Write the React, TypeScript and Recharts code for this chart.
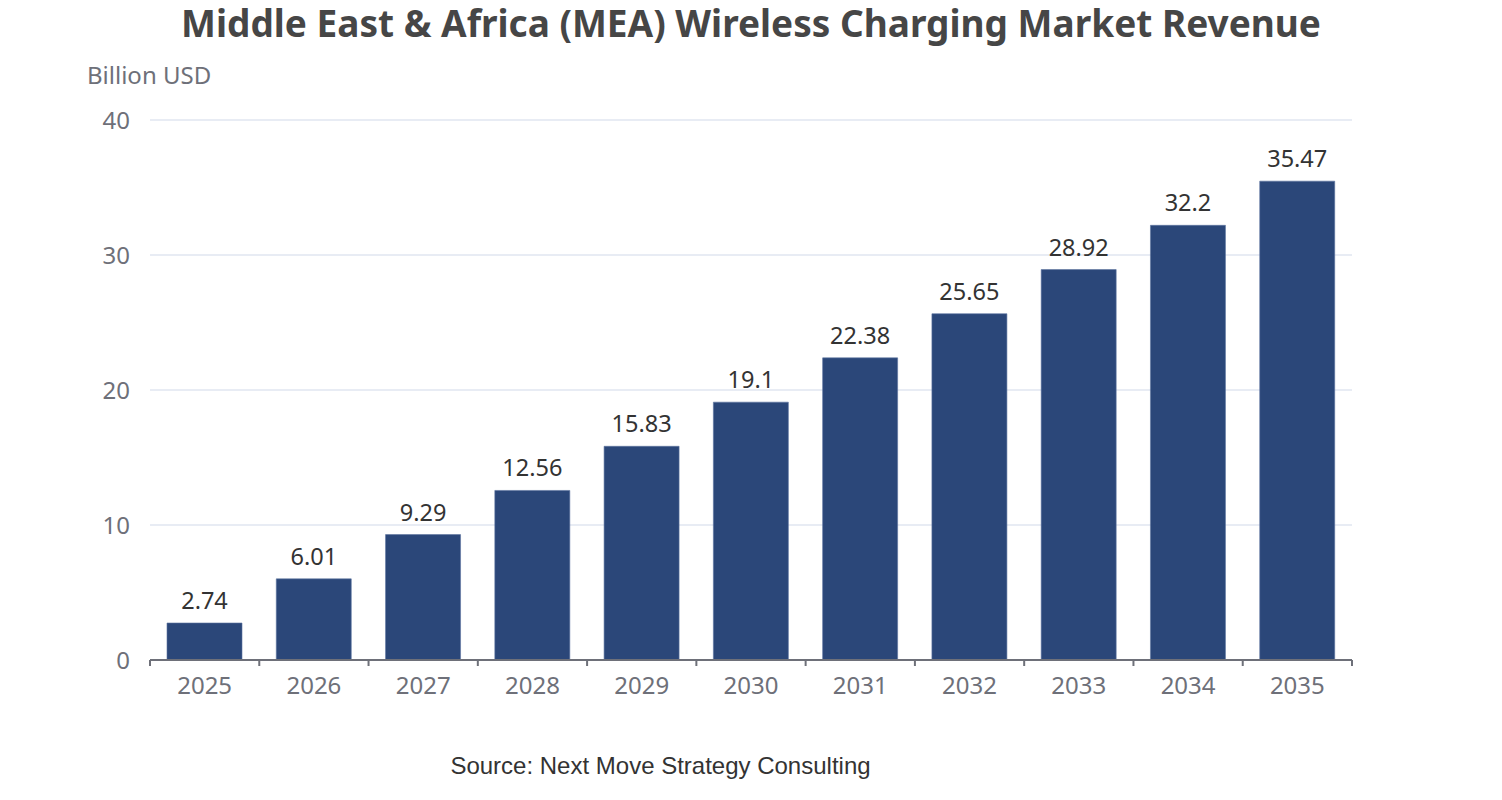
import React from 'react'
import { Bar, BarChart, CartesianGrid, LabelList, XAxis, YAxis } from 'recharts'

const years = ['2025', '2026', '2027', '2028', '2029', '2030', '2031', '2032', '2033', '2034', '2035']
const revenue = [2.74, 6.01, 9.29, 12.56, 15.83, 19.1, 22.38, 25.65, 28.92, 32.2, 35.47]
const yTicks = [0, 10, 20, 30, 40]

const chartData = years.map((year, i) => ({ year, revenue: revenue[i] }))

const W = 1502
const H = 800
const margin = { top: 120, right: 150, bottom: 110, left: 100 }
const plotW = W - margin.left - margin.right - 50
const band = plotW / years.length
const font = '"Noto Sans", "Open Sans", sans-serif'
const axisGray = '#6e7079'

const YearTick = (props: any) => {
  const { x, y, payload, index } = props
  const left = x - band / 2
  const right = x + band / 2
  return (
    <g>
      <line x1={left} x2={left} y1={y - 8} y2={y - 2} stroke={axisGray} strokeWidth={2} />
      {index === years.length - 1 && (
        <line x1={right} x2={right} y1={y - 8} y2={y - 2} stroke={axisGray} strokeWidth={2} />
      )}
      <text x={x} y={y + 26} textAnchor="middle" fill={axisGray} fontSize={24} fontFamily={font}>
        {payload.value}
      </text>
    </g>
  )
}

export default function App() {
  return (
    <div style={{ position: 'absolute', left: 0, top: 0, width: W, height: H, background: '#fff' }}>
      <div
        style={{
          position: 'absolute',
          top: 0,
          width: W,
          textAlign: 'center',
          fontFamily: font,
          fontWeight: 700,
          fontSize: 37,
          color: '#464646',
          lineHeight: '46px',
        }}
      >
        Middle East &amp; Africa (MEA) Wireless Charging Market Revenue
      </div>
      <div
        style={{
          position: 'absolute',
          left: 87,
          top: 58,
          fontFamily: font,
          fontSize: 24,
          color: axisGray,
        }}
      >
        Billion USD
      </div>
      <BarChart width={W} height={H} data={chartData} margin={margin}>
        <CartesianGrid vertical={false} stroke="#e0e6f1" strokeWidth={1.5} />
        <XAxis
          dataKey="year"
          axisLine={{ stroke: axisGray, strokeWidth: 2 }}
          tickLine={false}
          tick={<YearTick />}
          interval={0}
          height={30}
        />
        <YAxis
          domain={[0, 40]}
          ticks={yTicks}
          axisLine={false}
          tickLine={false}
          width={50}
          tick={{ fill: axisGray, fontSize: 24, fontFamily: font }}
          tickMargin={14}
        />
        <Bar dataKey="revenue" fill="#2b4779" stroke="#5c74a0" strokeWidth={0.6} barSize={75} isAnimationActive={false}>
          <LabelList dataKey="revenue" position="top" offset={14} fill="#333" fontSize={23.5} fontFamily={font} />
        </Bar>
      </BarChart>
      <div
        style={{
          position: 'absolute',
          top: 752,
          left: 0,
          width: 1321,
          textAlign: 'center',
          fontFamily: '"Liberation Sans", Arial, sans-serif',
          fontSize: 24,
          color: '#333',
        }}
      >
        Source: Next Move Strategy Consulting
      </div>
    </div>
  )
}
